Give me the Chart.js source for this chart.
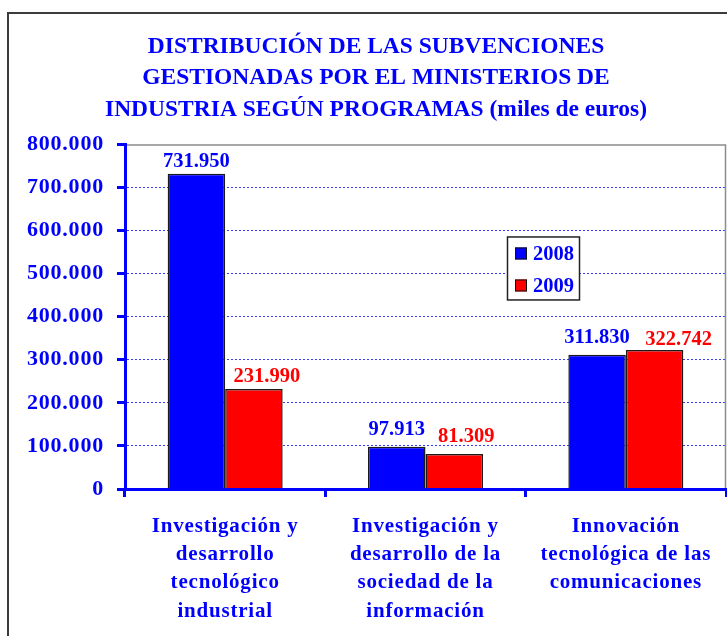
<!DOCTYPE html>
<html><head><meta charset="utf-8">
<script src="https://cdn.jsdelivr.net/npm/chart.js@4.4.1/dist/chart.umd.min.js"></script>
<style>
html,body{margin:0;padding:0;background:#fff;overflow:hidden;width:727px;height:636px;}
#frame{position:absolute;left:7px;top:12px;width:800px;height:700px;border-left:2px solid #3c3c3c;border-top:2px solid #3c3c3c;box-sizing:border-box;}
#wrap{position:absolute;left:0;top:0;width:752px;height:636px;}
</style></head><body>
<div id="frame"></div>
<div id="wrap"><canvas id="c" width="752" height="636"></canvas></div>
<script>
// ---- data ----
const titleLines = [
  "DISTRIBUCIÓN DE LAS SUBVENCIONES",
  "GESTIONADAS POR EL MINISTERIOS DE",
  "INDUSTRIA SEGÚN PROGRAMAS (miles de euros)"
];
const categories = [
  ["Investigación y", "desarrollo", "tecnológico", "industrial"],
  ["Investigación y", "desarrollo de la", "sociedad de la", "información"],
  ["Innovación", "tecnológica de las", "comunicaciones"]
];
const seriesNames = ["2008", "2009"];
const values2008 = [731950, 97913, 311830];
const values2009 = [231990, 81309, 322742];
const yTickValues = [0, 100000, 200000, 300000, 400000, 500000, 600000, 700000, 800000];

// ---- styles ----
const SERIF = '"Liberation Serif","Times New Roman",serif';
const BLUE = '#0000ff';
const RED = '#ff0000';
const seriesColors = [BLUE, RED];
const labelColors = [BLUE, RED];
const labelShiftX = [[0, 0, 0], [13, 12, 24]];
const labelGap = [[7, 12, 12], [7, 12, 5]];

function fmt(v) {
  return String(Math.round(v)).replace(/\B(?=(\d{3})+(?!\d))/g, '.');
}

const plotFrame = {
  id: 'plotFrame',
  beforeDatasetsDraw(chart) {
    const {ctx, chartArea: a} = chart;
    ctx.save();
    ctx.strokeStyle = '#8c8c8c';
    ctx.lineWidth = 1.5;
    ctx.beginPath();
    ctx.moveTo(a.left, a.top + 0.5);
    ctx.lineTo(a.right - 0.5, a.top + 0.5);
    ctx.lineTo(a.right - 0.5, a.bottom);
    ctx.stroke();
    ctx.restore();
  }
};

const spacing = {
  id: 'spacing',
  beforeDraw(chart) {
    const wrap = (scale, sp) => {
      if (!scale || scale._spWrapped) return;
      const orig = scale.drawLabels.bind(scale);
      scale.drawLabels = function (ca) {
        const ctx = this.ctx;
        ctx.save();
        ctx.letterSpacing = sp;
        orig(ca);
        ctx.restore();
      };
      scale._spWrapped = true;
    };
    wrap(chart.scales.x, '0.8px');
    wrap(chart.scales.y, '0.8px');
  }
};

const valueLabels = {
  id: 'valueLabels',
  afterDatasetsDraw(chart) {
    const ctx = chart.ctx;
    ctx.save();
    ctx.font = 'bold 20.5px ' + SERIF;
    ctx.textAlign = 'center';
    ctx.textBaseline = 'alphabetic';
    chart.data.datasets.forEach((ds, di) => {
      const meta = chart.getDatasetMeta(di);
      meta.data.forEach((bar, i) => {
        ctx.fillStyle = labelColors[di];
        ctx.fillText(fmt(ds.data[i]), bar.x + labelShiftX[di][i], bar.y - labelGap[di][i]);
      });
    });
    ctx.restore();
  }
};

const boxLegend = {
  id: 'boxLegend',
  afterDraw(chart) {
    const {ctx, chartArea: a} = chart;
    const x = a.left + 382, y = a.top + 92, w = 72, h = 63;
    ctx.save();
    ctx.fillStyle = '#fff';
    ctx.fillRect(x, y, w, h);
    ctx.strokeStyle = '#222';
    ctx.lineWidth = 1.5;
    ctx.strokeRect(x + 0.5, y + 0.5, w, h);
    ctx.font = 'bold 20.5px ' + SERIF;
    ctx.textBaseline = 'alphabetic';
    chart.data.datasets.forEach((ds, i) => {
      const ry = y + 11 + i * 32;
      ctx.fillStyle = ds.backgroundColor;
      ctx.fillRect(x + 8, ry, 12, 12);
      ctx.strokeStyle = '#111';
      ctx.lineWidth = 1;
      ctx.strokeRect(x + 8.5, ry + 0.5, 11, 11);
      ctx.fillStyle = BLUE;
      ctx.fillText(ds.label, x + 26, ry + 13);
    });
    ctx.restore();
  }
};

new Chart(document.getElementById('c'), {
  type: 'bar',
  data: {
    labels: categories,
    datasets: [
      {label: seriesNames[0], data: values2008, backgroundColor: seriesColors[0]},
      {label: seriesNames[1], data: values2009, backgroundColor: seriesColors[1]}
    ]
  },
  options: {
    responsive: false,
    animation: false,
    devicePixelRatio: 1,
    layout: {padding: 0},
    datasets: {
      bar: {
        borderColor: '#1a1a1a',
        borderWidth: 1.5,
        categoryPercentage: 0.574,
        barPercentage: 1,
        borderSkipped: 'bottom'
      }
    },
    plugins: {
      legend: {display: false},
      tooltip: {enabled: false},
      title: {
        display: true,
        text: titleLines,
        color: BLUE,
        font: {family: SERIF, size: 23.5, weight: 'bold', lineHeight: 1.34},
        padding: {top: 31, bottom: 19}
      }
    },
    scales: {
      x: {
        offset: true,
        grid: {display: true, drawOnChartArea: false, drawTicks: true, offset: true,
               tickLength: 8, tickColor: BLUE, tickWidth: 3},
        border: {display: true, color: BLUE, width: 3, z: 1},
        ticks: {color: BLUE, font: {family: SERIF, size: 21, weight: 'bold', lineHeight: 1.35},
                padding: 15, maxRotation: 0, minRotation: 0, autoSkip: false},
        afterFit(s) { s.height = 147; }
      },
      y: {
        min: 0, max: 800000,
        afterBuildTicks(s) { s.ticks = yTickValues.map(v => ({value: v})); },
        ticks: {color: BLUE, font: {family: SERIF, size: 22, weight: 'bold'}, padding: 13,
                callback: v => fmt(v)},
        grid: {
          color: c => (c.tick && (c.tick.value === 0 || c.tick.value === 800000)) ? 'rgba(0,0,0,0)' : '#3a3aff',
          lineWidth: 1, tickColor: BLUE, tickWidth: 3, tickLength: 8
        },
        border: {display: true, color: BLUE, width: 3, dash: [2, 2], z: 1},
        afterFit(s) { s.width = 125; }
      },
      y2: {
        position: 'right', display: true,
        grid: {display: false}, border: {display: false}, ticks: {display: false},
        afterFit(s) { s.width = 26; }
      }
    }
  },
  plugins: [plotFrame, spacing, valueLabels, boxLegend]
});
</script>
</body></html>
